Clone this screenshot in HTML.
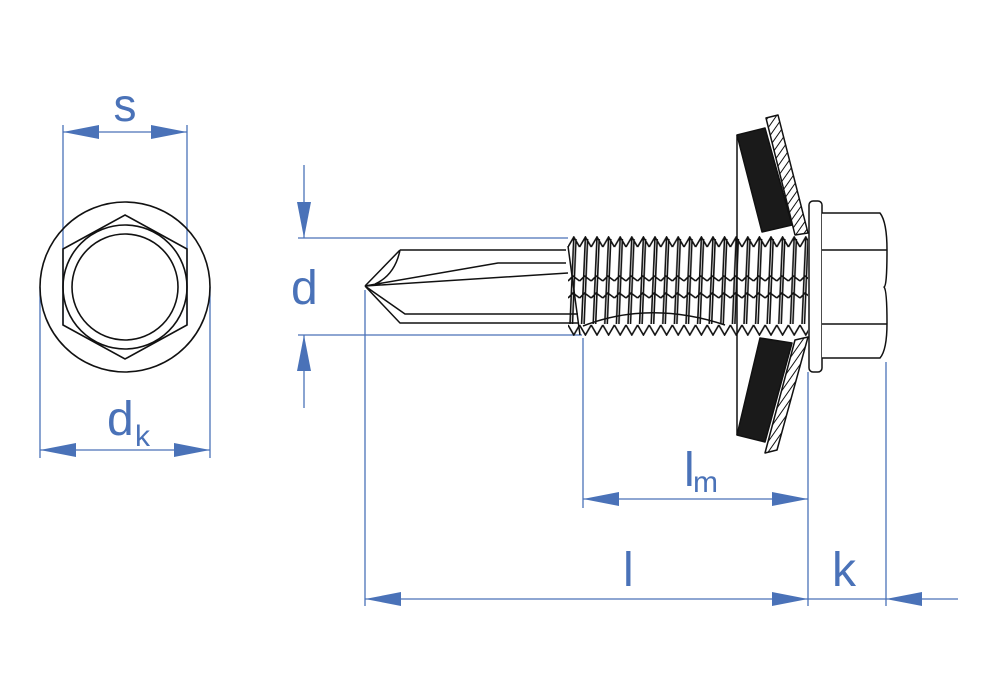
<!DOCTYPE html>
<html><head><meta charset="utf-8"><style>
html,body{margin:0;padding:0;background:#fff;}
svg{display:block;}
text{font-family:"Liberation Sans",sans-serif;fill:#4a72b8;}
</style></head><body>
<svg width="1000" height="700" viewBox="0 0 1000 700" xmlns="http://www.w3.org/2000/svg">
<defs>
<pattern id="thr" patternUnits="userSpaceOnUse" x="568" y="236" width="11.6" height="100">
<path d="M0,11 L5.8,1 L11.6,11 M5.8,1 L2,88 M8,3 L4.5,88 M0,89 L5.8,99 L11.6,89 M0,45 L5,40 L11.6,45 M0,62 L5,57 L11.6,62" fill="none" stroke="#111" stroke-width="1.6"/>
</pattern>
<pattern id="hat" patternUnits="userSpaceOnUse" width="6" height="6" patternTransform="rotate(35)">
<rect width="6" height="6" fill="#fff"/><line x1="0" y1="0" x2="0" y2="6" stroke="#111" stroke-width="2"/>
</pattern>
<marker id="ar" markerWidth="36" markerHeight="14" refX="36" refY="7" orient="auto" markerUnits="userSpaceOnUse"><path d="M0,0 L36,7 L0,14 Z" fill="#4a72b8"/></marker>
</defs>
<g stroke="#4a72b8" stroke-width="1.3" fill="none">
<line x1="63" y1="125" x2="63" y2="325"/><line x1="187" y1="125" x2="187" y2="325"/>
<line x1="125" y1="132" x2="63" y2="132" marker-end="url(#ar)"/><line x1="125" y1="132" x2="187" y2="132" marker-end="url(#ar)"/>
<line x1="40" y1="287" x2="40" y2="458"/><line x1="210" y1="287" x2="210" y2="458"/>
<line x1="125" y1="450" x2="40" y2="450" marker-end="url(#ar)"/><line x1="125" y1="450" x2="210" y2="450" marker-end="url(#ar)"/>
<line x1="298" y1="238" x2="568" y2="238"/><line x1="298" y1="335" x2="582" y2="335"/>
<line x1="304" y1="165" x2="304" y2="238" marker-end="url(#ar)"/>
<line x1="304" y1="408" x2="304" y2="335" marker-end="url(#ar)"/>
<line x1="365" y1="290" x2="365" y2="606"/><line x1="583" y1="338" x2="583" y2="508"/>
<line x1="808" y1="372" x2="808" y2="606"/><line x1="886" y1="362" x2="886" y2="606"/>
<line x1="690" y1="499" x2="583" y2="499" marker-end="url(#ar)"/><line x1="690" y1="499" x2="808" y2="499" marker-end="url(#ar)"/>
<line x1="600" y1="599" x2="365" y2="599" marker-end="url(#ar)"/><line x1="600" y1="599" x2="808" y2="599" marker-end="url(#ar)"/>
<line x1="808" y1="599" x2="886" y2="599"/>
<line x1="958" y1="599" x2="886" y2="599" marker-end="url(#ar)"/>
</g>
<text x="125" y="121" font-size="46" text-anchor="middle">s</text>
<text x="107" y="435" font-size="48">d</text><text x="135" y="446" font-size="30">k</text>
<text x="291" y="304" font-size="48">d</text>
<text x="684" y="486" font-size="48">l</text><text x="693" y="492" font-size="30">m</text>
<text x="623" y="586" font-size="48">l</text>
<text x="832" y="586" font-size="48">k</text>
<g stroke="#111" stroke-width="1.6" fill="none">
<circle cx="125" cy="287" r="85"/>
<polygon points="125,215 187,249 187,325 125,359 63,325 63,249"/>
<circle cx="125" cy="287" r="62"/><circle cx="125" cy="287" r="53"/>
</g>
<g stroke="#111" stroke-width="1.5" fill="none" stroke-linejoin="round">
<path d="M400,250 L566,250 M365,286 L400,250 M365,286 L400,323 L578,323 M365,286 L405,314 L578,314 M365,286 L498,263 L566,263 M365,286 L568,273 M400,250 Q395,275 375,284"/>
<rect x="568" y="236" width="240" height="100" fill="url(#thr)" stroke="none"/>
<path d="M568,246 L580,335 M583,326 Q650,300 725,325" />
<line x1="737" y1="135" x2="737" y2="435"/>
<polygon points="737,135 765,128 792,225 762,232" fill="#1a1a1a"/>
<polygon points="766,118 778,115 808,233 795,235" fill="url(#hat)"/>
<polygon points="760,338 792,343 765,442 737,435" fill="#1a1a1a"/>
<polygon points="795,340 808,337 777,450 765,453" fill="url(#hat)"/>
<rect x="809" y="201" width="13" height="171" rx="4" fill="#fff"/>
<path d="M822,213 L880,213 Q887,222 887,250 Q887,287 884,287 Q887,290 887,323 Q887,350 880,358 L822,358" fill="#fff"/>
<line x1="822" y1="250" x2="887" y2="250"/><line x1="822" y1="324" x2="887" y2="324"/>
</g>
</svg>
</body></html>
